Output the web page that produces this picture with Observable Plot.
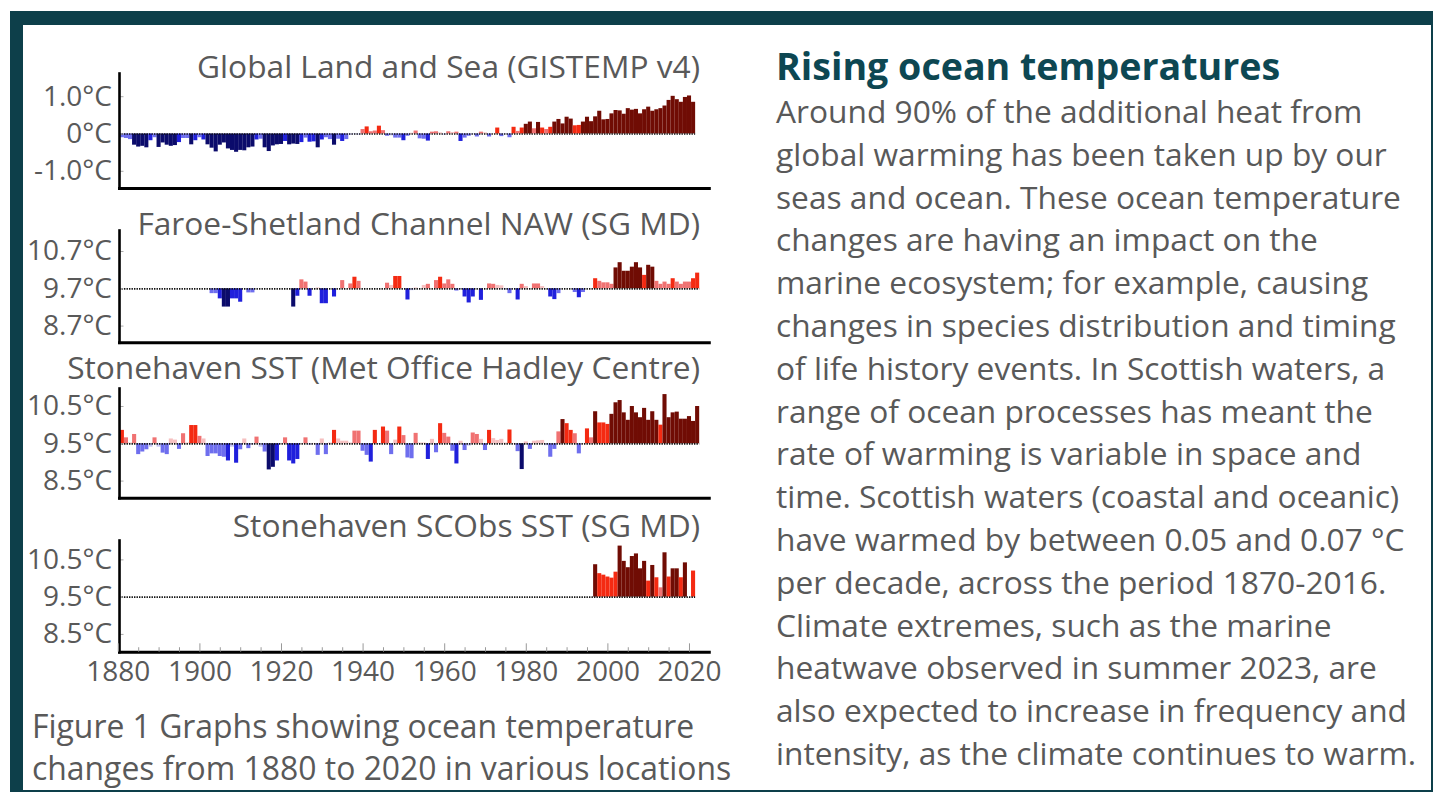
<!DOCTYPE html>
<html><head><meta charset="utf-8">
<script src="https://cdn.jsdelivr.net/npm/d3@7"></script>
<script src="https://cdn.jsdelivr.net/npm/@observablehq/plot@0.6"></script>
<style>
html,body{margin:0;padding:0;background:#fff;}
body{width:1435px;height:794px;position:relative;overflow:hidden;font-family:"Open Sans",sans-serif;}
#frame{position:absolute;left:10px;top:11px;width:1408px;height:765px;border-top:14px solid #0d3f4a;border-left:13px solid #0d3f4a;border-right:2px solid #0d3f4a;border-bottom:2px solid #0d3f4a;}
.abs{position:absolute;white-space:nowrap;}
.ptitle{font-size:31.7px;line-height:31.7px;color:#595959;right:735px;text-align:right;}
#heading{left:776px;top:47px;font-size:37.6px;line-height:37.6px;font-weight:700;color:#0d4752;}
#body{left:776px;top:90px;font-size:31.7px;line-height:42.8px;color:#595959;}
#caption{left:32px;top:705px;font-size:31.9px;line-height:41.5px;color:#595959;}
svg{position:absolute;left:0;}
</style></head>
<body>
<div id="frame"></div>
<div class="abs ptitle" style="top:50px">Global Land and Sea (GISTEMP v4)</div>
<div class="abs ptitle" style="top:207px">Faroe-Shetland Channel NAW (SG MD)</div>
<div class="abs ptitle" style="top:351px">Stonehaven SST (Met Office Hadley Centre)</div>
<div class="abs ptitle" style="top:509px">Stonehaven SCObs SST (SG MD)</div>
<div id="heading" class="abs">Rising ocean temperatures</div>
<div id="body" class="abs">Around 90% of the additional heat from<br>global warming has been taken up by our<br>seas and ocean. These ocean temperature<br>changes are having an impact on the<br>marine ecosystem; for example, causing<br>changes in species distribution and timing<br>of life history events. In Scottish waters, a<br>range of ocean processes has meant the<br>rate of warming is variable in space and<br>time. Scottish waters (coastal and oceanic)<br>have warmed by between 0.05 and 0.07 °C<br>per decade, across the period 1870-2016.<br>Climate extremes, such as the marine<br>heatwave observed in summer 2023, are<br>also expected to increase in frequency and<br>intensity, as the climate continues to warm.</div>
<div id="caption" class="abs">Figure 1 Graphs showing ocean temperature<br>changes from 1880 to 2020 in various locations</div>
<div id="charts"></div>
<script>
// ---- Data (anomalies relative to each panel's baseline, °C) ----
const globalStart = 1880;
const globalValues = [
-0.17,-0.10,-0.12,-0.15,-0.30,-0.35,-0.33,-0.37,-0.18,-0.10,
-0.36,-0.24,-0.30,-0.33,-0.31,-0.23,-0.12,-0.12,-0.29,-0.18,
-0.10,-0.16,-0.29,-0.38,-0.48,-0.30,-0.24,-0.40,-0.44,-0.49,
-0.44,-0.45,-0.37,-0.35,-0.16,-0.14,-0.37,-0.47,-0.32,-0.29,
-0.28,-0.20,-0.29,-0.27,-0.28,-0.23,-0.11,-0.22,-0.21,-0.37,
-0.16,-0.10,-0.15,-0.30,-0.14,-0.20,-0.15,-0.03,-0.02,-0.03,
0.12,0.19,0.06,0.08,0.21,0.09,-0.06,-0.05,-0.11,-0.11,
-0.18,-0.06,0.02,0.08,-0.13,-0.14,-0.19,0.05,0.06,0.03,
-0.03,0.06,0.04,0.05,-0.20,-0.11,-0.06,-0.02,-0.08,0.05,
0.03,-0.08,0.01,0.16,-0.07,-0.01,-0.10,0.18,0.07,0.16,
0.26,0.32,0.14,0.31,0.16,0.12,0.18,0.32,0.39,0.27,
0.45,0.40,0.22,0.23,0.32,0.45,0.33,0.46,0.61,0.38,
0.39,0.54,0.63,0.62,0.53,0.68,0.64,0.66,0.54,0.65,
0.72,0.61,0.65,0.68,0.75,0.90,1.01,0.92,0.85,0.98,
1.02,0.85];

const faroeStart = 1903;
const faroeValues = [
-0.13,-0.13,-0.27,-0.49,-0.49,-0.27,-0.27,-0.36,null,-0.11,
-0.11,null,null,null,null,null,null,null,null,null,
-0.49,-0.20,0.24,0.18,-0.20,null,0.02,-0.40,-0.40,null,
-0.22,null,0.22,null,0.13,0.31,0.20,null,null,null,
null,null,null,0.15,0.09,0.33,0.33,null,-0.30,-0.05,
0.02,null,0.09,0.12,null,0.22,0.31,0.13,0.24,0.12,
-0.06,-0.02,-0.22,-0.38,-0.22,null,-0.31,null,0.13,0.12,
0.09,0.08,-0.03,-0.13,null,-0.30,0.12,0.06,null,0.13,
0.13,0.06,null,-0.22,-0.29,-0.13,null,null,null,-0.10,
-0.24,-0.10,null,null,0.27,0.20,0.16,0.16,0.12,0.56,
0.70,0.47,0.47,0.58,0.70,0.56,0.36,0.63,0.58,0.20,
0.12,0.18,0.12,0.27,0.18,0.12,0.18,0.18,0.27,0.42];

const stoneStart = 1881;
const stoneValues = [
0.36,0.16,0.02,0.25,-0.29,-0.22,-0.16,-0.09,0.16,-0.09,
-0.25,-0.29,0.13,0.10,-0.15,0.27,0.02,0.49,0.49,0.20,
0.13,-0.34,-0.27,-0.27,-0.34,-0.36,-0.46,-0.09,-0.52,-0.16,
0.13,-0.13,-0.03,0.18,-0.09,-0.22,-0.70,-0.63,-0.46,0.01,
0.16,-0.46,-0.54,-0.42,0.01,0.16,-0.04,0.01,-0.31,0.13,
-0.29,0.02,0.36,0.13,0.07,0.07,0.02,0.34,0.34,-0.20,
-0.31,-0.49,0.36,-0.02,0.45,0.34,-0.29,0.10,0.45,0.22,
-0.38,-0.40,0.28,0.02,0.02,-0.42,0.12,-0.24,0.54,0.28,
0.18,-0.20,-0.54,0.07,-0.18,-0.06,0.29,0.25,0.12,-0.18,
0.36,0.14,0.09,0.12,0.02,0.37,0.01,-0.21,-0.69,0.05,
-0.15,0.07,0.08,0.09,-0.05,-0.36,-0.15,0.32,0.65,0.54,
0.36,0.27,-0.27,0.01,0.40,0.16,0.86,0.56,0.56,0.52,
0.79,1.10,1.16,0.83,0.63,1.00,0.83,0.70,0.95,0.63,
0.86,0.63,0.50,1.32,0.70,0.83,0.85,0.66,0.66,0.73,
0.60,1.00];

const scobsStart = 1997;
const scobsValues = [
0.87,0.63,0.59,0.54,0.51,0.67,1.37,0.96,0.79,1.09,
1.16,0.76,0.96,0.43,0.85,0.52,0.25,1.19,0.54,0.76,
0.76,0.52,0.92,null,0.70];

const titles = ["Global Land and Sea (GISTEMP v4)","Faroe-Shetland Channel NAW (SG MD)","Stonehaven SST (Met Office Hadley Centre)","Stonehaven SCObs SST (SG MD)"];
const baselines = [0, 9.7, 9.5, 9.5];
const yTicks = [[-1,0,1],[8.7,9.7,10.7],[8.5,9.5,10.5],[8.5,9.5,10.5]];
const xLabelYears = [1880,1900,1920,1940,1960,1980,2000,2020];
const palette = ["#0b0b6b","#2020dc","#6e6eee","#c4c4f6","#f6c0c0","#f07272","#f42a12","#700c04"];
const thresholds = [
  [-0.235,-0.15,-0.05,0,0.05,0.15,0.25],
  [-0.45,-0.18,-0.05,0,0.1,0.25,0.45],
  [-0.6,-0.4,-0.12,0,0.15,0.35,0.6],
  [-0.6,-0.4,-0.12,0,0.15,0.35,0.72]
];

// ---- Layout ----
const X0 = 1880.3, X1 = 2024.85;
const W = 720, ML = 119, MR = W - 708.8;
const panels = [
  {start: globalStart, values: globalValues, top: 73, bottom: 188, yDomain: [-1.461, 1.622]},
  {start: faroeStart, values: faroeValues, top: 230, bottom: 342.3, yDomain: [8.252, 11.263]},
  {start: stoneStart, values: stoneValues, top: 388, bottom: 497.7, yDomain: [8.042, 10.983]},
  {start: scobsStart, values: scobsValues, top: 540, bottom: 651.7, yDomain: [8.023, 11.02]}
];

const fmtY = d => d === 0 ? "0°C" : d.toFixed(1) + "°C";
const holder = document.getElementById("charts");

panels.forEach((p, i) => {
  const base = baselines[i];
  const data = p.values.map((v, k) => ({year: p.start + k, v})).filter(d => d.v != null);
  const lastYear = d3.max(data, d => d.year);
  const isLast = i === panels.length - 1;
  const mt = 10, mb = isLast ? 50 : 10;
  const h = (p.bottom - p.top) + mt + mb;
  const yr = p.yDomain[1] - p.yDomain[0];
  const marks = [
    Plot.rectY(data, {x1: d => d.year - 0.5, x2: d => d.year + 0.5, y1: base, y2: d => base + d.v, fill: d => d.v, clip: true}),
    Plot.ruleY([base], {x1: X0, x2: lastYear + 0.5, stroke: "#111", strokeWidth: 1.7, strokeDasharray: "1.4,1.1"}),
    Plot.ruleY(yTicks[i], {x1: X0, x2: X0 + 1.1, stroke: "#aaa", strokeWidth: 1}),
    Plot.axisY({ticks: yTicks[i], tickSize: 0, tickPadding: 7.5, tickFormat: fmtY, fontSize: 28}),
    Plot.frame({anchor: "left", stroke: "#000", strokeWidth: 2.6}),
    Plot.frame({anchor: "bottom", stroke: "#000", strokeWidth: 3})
  ];
  if (isLast) {
    marks.push(
      Plot.ruleX(d3.range(1885, 2025, 5).filter(y => !xLabelYears.includes(y)), {y1: p.yDomain[0], y2: p.yDomain[0] + yr * 0.04, stroke: "#999"}),
      Plot.ruleX(xLabelYears, {y1: p.yDomain[0], y2: p.yDomain[0] + yr * 0.075, stroke: "#999"}),
      Plot.axisX({ticks: xLabelYears, tickSize: 0, tickPadding: 8.5, tickFormat: d => String(d), fontSize: 28})
    );
  }
  const chart = Plot.plot({
    width: W, height: h,
    marginLeft: ML, marginRight: MR, marginTop: mt, marginBottom: mb,
    x: {domain: [X0, X1], axis: null},
    y: {domain: p.yDomain, axis: null},
    color: {type: "threshold", domain: thresholds[i], range: palette},
    style: {fontFamily: "Open Sans", fontSize: "28px", color: "#595959", background: "transparent", overflow: "visible"},
    marks
  });
  chart.style.top = (p.top - mt) + "px";
  chart.style.left = "0px";
  chart.style.position = "absolute";
  holder.appendChild(chart);
});
</script>
</body></html>
